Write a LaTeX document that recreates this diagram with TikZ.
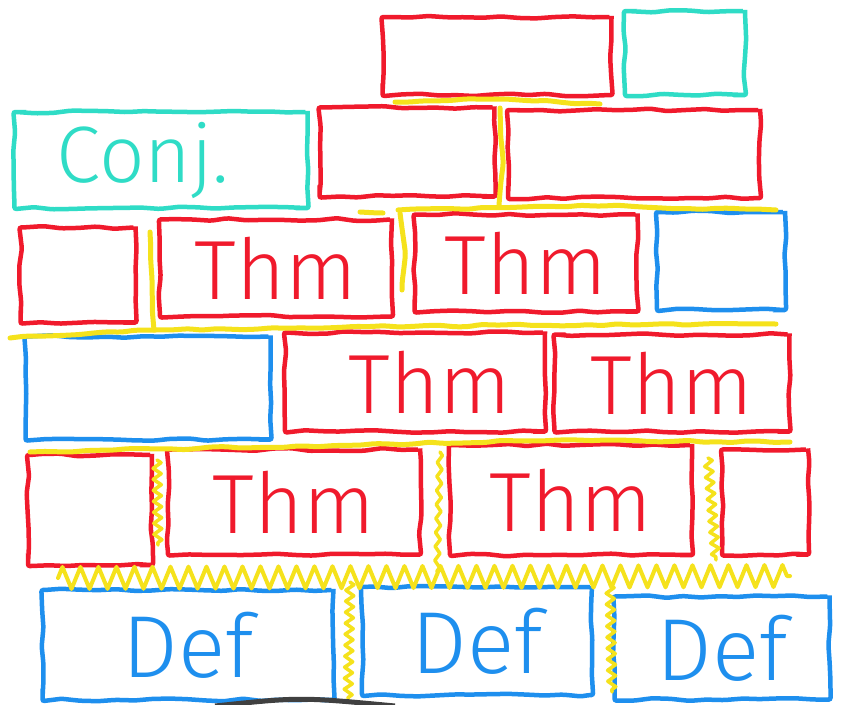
\documentclass[tikz,border=0pt]{standalone}
\usepackage{fontspec}
\setmainfont{Fira Sans}[UprightFont={* Light}]
\usepackage{tikz}
\usetikzlibrary{decorations.pathmorphing}
\definecolor{thmred}{HTML}{F01A2C}
\definecolor{defblue}{HTML}{1E8FEE}
\definecolor{conjcyan}{HTML}{2FDCC6}
\definecolor{mortaryellow}{HTML}{F5E21C}
\pgfmathsetseed{7}

\begin{document}
\begin{tikzpicture}[
    x=1pt, y=-1pt,
    brick/.style={rectangle, line width=4.5pt, rounded corners=2pt, inner sep=0pt, decorate, decoration={random steps, segment length=18pt, amplitude=1.4pt}},
    redbrick/.style={brick, draw=thmred, text=thmred, font=\fontsize{84}{84}\selectfont},
    bluebrick/.style={brick, draw=defblue, text=defblue, font=\fontsize{88}{88}\selectfont},
    cyanbrick/.style={brick, draw=conjcyan, text=conjcyan, font=\fontsize{80}{80}\selectfont},
    mortar/.style={draw=mortaryellow, line width=5pt, line cap=round, rounded corners=4pt, decorate, decoration={random steps, segment length=14pt, amplitude=1.2pt}},
    jagged/.style={draw=mortaryellow, line width=3.5pt, line cap=round, line join=round, decorate, decoration={zigzag, segment length=11pt, amplitude=4pt}},
]
    \fill[white] (0,0) rectangle (845,704);
    \useasboundingbox (0,0) rectangle (845,704);
    % Row 0
    \node[redbrick, minimum width=229pt, minimum height=78pt] (top1) at (497,56) {};
    \node[cyanbrick, minimum width=120pt, minimum height=84pt] (top2) at (685,53) {};
    % Row 1
    \node[cyanbrick, minimum width=293pt, minimum height=96pt] (conj) at (161,160) {Conj.\kern36pt};
    \node[redbrick, minimum width=175pt, minimum height=89pt] (row1a) at (407,152) {};
    \node[redbrick, minimum width=252pt, minimum height=88pt] (row1b) at (634,154) {};
    % Row 2
    \node[redbrick, minimum width=115pt, minimum height=95pt] (row2a) at (78,275) {};
    \node[redbrick, minimum width=232pt, minimum height=97pt] (thm1) at (276,268) {Thm};
    \node[redbrick, minimum width=223pt, minimum height=97pt] (thm2) at (526,263) {Thm};
    \node[bluebrick, minimum width=128pt, minimum height=98pt] (row2d) at (721,261) {};
    % Row 3
    \node[bluebrick, minimum width=245pt, minimum height=103pt] (row3a) at (148,388) {};
    \node[redbrick, minimum width=260pt, minimum height=99pt] (thm3) at (415,382) {\kern30pt Thm};
    \node[redbrick, minimum width=235pt, minimum height=97pt] (thm4) at (672,383) {Thm};
    % Row 4
    \node[redbrick, minimum width=124pt, minimum height=110pt] (row4a) at (90,510) {};
    \node[redbrick, minimum width=252pt, minimum height=105pt] (thm5) at (294,502) {Thm};
    \node[redbrick, minimum width=242pt, minimum height=110pt] (thm6) at (571,500) {Thm};
    \node[redbrick, minimum width=86pt, minimum height=105pt] (row4d) at (765,502) {};
    % Row 5
    \node[bluebrick, minimum width=291pt, minimum height=110pt] (def1) at (188,645) {Def};
    \node[bluebrick, minimum width=230pt, minimum height=108pt] (def2) at (477,641) {Def};
    \node[bluebrick, minimum width=215pt, minimum height=103pt] (def3) at (722,648) {Def};
    % Mortar
    \draw[mortar] (395,102) -- (500,99) -- (600,104);
    \draw[mortar] (500,108) -- (503,160) -- (499,205);
    \draw[mortar] (360,212) -- (383,213);
    \draw[mortar] (398,210) -- (600,206) -- (776,210);
    \draw[mortar] (400,213) -- (405,250) -- (402,290);
    \draw[mortar] (150,232) -- (152,280) -- (154,330);
    \draw[mortar] (10,338) -- (156,330) -- (500,325) -- (776,324);
    \draw[mortar] (30,452) -- (300,446) -- (560,440) -- (790,442);
    \draw[jagged] (157,460) -- (158,545);
    \draw[jagged, decoration={zigzag, segment length=14pt, amplitude=2.5pt}] (440,452) -- (437,572);
    \draw[jagged] (708,458) -- (716,560);
    \draw[jagged, line width=4pt, decoration={zigzag, segment length=18pt, amplitude=11pt}] (58,578) -- (790,576);
    \draw[jagged] (350,582) -- (348,702);
    \draw[jagged] (610,585) -- (612,692);
    % shadow at the bottom edge
    \draw[line width=5pt, black!75] (215,706) .. controls (300,697) .. (395,706);
\end{tikzpicture}
\end{document}
